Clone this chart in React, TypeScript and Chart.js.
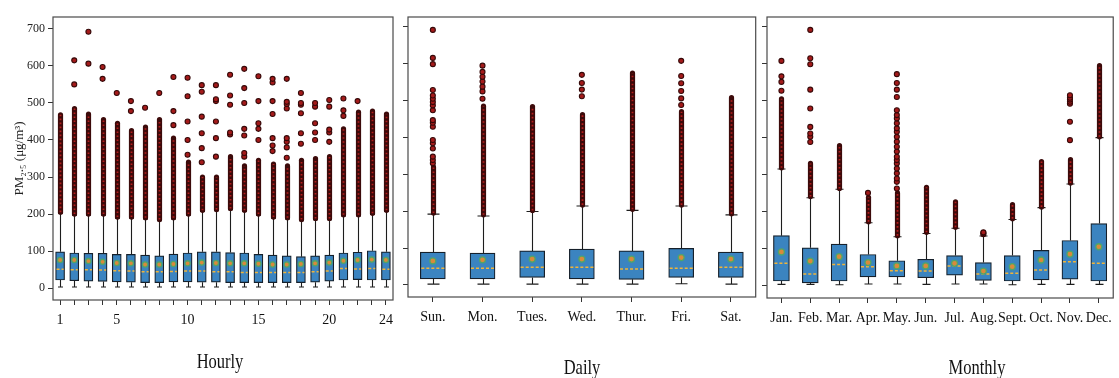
import React, { useEffect, useRef } from 'react';
import { Chart, registerables } from 'chart.js';

Chart.register(...registerables);

const FONT = "'Liberation Serif', 'Times New Roman', serif";

// ---------- shared ----------
const yTickValues = [0, 100, 200, 300, 400, 500, 600, 700];

// ---------- Hourly ----------
const hourLabels = ['1','2','3','4','5','6','7','8','9','10','11','12','13','14','15','16','17','18','19','20','21','22','23','24'];
const hourShownLabels = ['1', '5', '10', '15', '20', '24'];
const hourQ1 = [22,20,19,18,17,16,15,15,17,17,16,16,15,15,15,15,15,15,16,19,22,23,22,22];
const hourQ3 = [98,95,94,94,91,91,89,87,92,95,98,98,96,95,91,89,87,85,87,89,95,97,101,98];
const hourMedian = [51,50,50,49,47,46,44,44,45,46,46,44,44,42,42,42,42,42,44,46,53,52,53,51];
const hourMean = [76,76,73,71,68,67,64,64,65,67,69,68,67,67,66,64,64,65,67,69,74,76,77,76];
const hourWhiskerLow = [3,3,3,3,3,3,3,3,3,3,3,3,3,3,3,3,3,3,3,3,3,3,3,3];
const hourWhiskerHigh = [202,197,197,197,189,189,187,182,187,197,207,209,212,207,197,189,187,182,185,185,195,195,199,207];
const hourDenseLow = [205,200,200,200,192,192,190,185,190,200,210,212,215,210,200,192,190,185,188,188,198,198,202,210];
const hourDenseHigh = [468,485,470,455,445,425,435,455,405,340,300,300,355,330,345,335,330,345,350,355,430,475,478,470];
const hourOutliers: number[][] = [
  [],
  [550, 615],
  [606, 692],
  [565, 597],
  [527],
  [478, 505],
  [487],
  [527],
  [440, 478, 570],
  [360, 400, 450, 518, 568],
  [340, 378, 418, 463, 530, 548],
  [355, 405, 450, 505, 510, 548],
  [415, 420, 495, 520, 576],
  [355, 365, 412, 430, 500, 540, 592],
  [400, 430, 445, 505, 572],
  [370, 385, 405, 470, 505, 555, 565],
  [352, 380, 395, 405, 485, 497, 503, 565],
  [390, 418, 472, 495, 500, 527],
  [400, 420, 445, 490, 500],
  [395, 420, 428, 490, 508],
  [465, 480, 512],
  [505],
  [],
  [],
];

// ---------- Daily ----------
const dayLabels = ['Sun.', 'Mon.', 'Tues.', 'Wed.', 'Thur.', 'Fri.', 'Sat.'];
const dayQ1 = [16, 16, 20, 16, 15, 20, 20];
const dayQ3 = [89, 86, 92, 97, 92, 99, 89];
const dayMedian = [45, 45, 48, 48, 43, 45, 48];
const dayMean = [65, 68, 70, 70, 70, 74, 70];
const dayWhiskerLow = [2, 2, 2, 2, 2, 3, 2];
const dayWhiskerHigh = [192, 187, 199, 214, 202, 214, 190];
const dayDenseLow = [195, 190, 202, 217, 205, 217, 193];
const dayDenseHigh = [320, 485, 484, 462, 575, 470, 508];
const dayOutliers: number[][] = [
  [330, 339, 348, 370, 384, 393, 429, 440, 447, 474, 487, 496, 505, 514, 529, 599, 616, 692],
  [505, 525, 538, 552, 565, 578, 595],
  [],
  [512, 530, 548, 570],
  [],
  [488, 506, 526, 547, 567, 608],
  [],
];

// ---------- Monthly ----------
const monthLabels = ['Jan.', 'Feb.', 'Mar.', 'Apr.', 'May.', 'Jun.', 'Jul.', 'Aug.', 'Sept.', 'Oct.', 'Nov.', 'Dec.'];
const monthQ1 = [11, 6, 11, 22, 22, 20, 27, 13, 11, 14, 16, 11];
const monthQ3 = [134, 101, 111, 83, 66, 70, 80, 61, 80, 94, 121, 167];
const monthMedian = [59, 30, 56, 50, 39, 38, 52, 30, 32, 41, 63, 59];
const monthMean = [90, 65, 77, 61, 52, 52, 59, 38, 50, 68, 84, 104];
const monthWhiskerLow = [2, 2, 1, 3, 3, 2, 3, 3, 1, 2, 2, 2];
const monthWhiskerHigh = [315, 237, 260, 169, 131, 140, 154, 133, 178, 210, 274, 400];
const monthDenseLow: (number | null)[] = [318, 240, 262, 172, 134, 143, 157, null, 180, 212, 277, 402];
const monthDenseHigh: (number | null)[] = [505, 330, 378, 238, 250, 265, 226, null, 218, 335, 340, 595];
const monthOutliers: number[][] = [
  [527, 551, 566, 608],
  [388, 402, 411, 429, 479, 530, 599, 615, 692],
  [],
  [250],
  [262, 280, 289, 303, 316, 330, 339, 348, 362, 375, 389, 402, 416, 425, 439, 452, 461, 474, 510, 530, 548, 572],
  [],
  [],
  [138, 141, 143],
  [],
  [],
  [393, 443, 492, 497, 503, 508, 515],
  [],
];

type Panel = {
  labels: string[];
  q1: number[];
  q3: number[];
  median: number[];
  mean: number[];
  whiskerLow: number[];
  whiskerHigh: number[];
  denseLow: (number | null)[];
  denseHigh: (number | null)[];
  outliers: number[][];
  shown?: string[];
  left: number;
  width: number;
  yAxisWidth: number;
  xAxisHeight: number;
  padRight: number;
  yMin: number;
  yMax: number;
  showYLabels: boolean;
  boxWidth: number;
  capWidth: number;
  meanRadius: number;
  tickSize: number;
};

const HEIGHT = 378;

const panels: Panel[] = [
  {
    labels: hourLabels, q1: hourQ1, q3: hourQ3, median: hourMedian, mean: hourMean,
    whiskerLow: hourWhiskerLow, whiskerHigh: hourWhiskerHigh, denseLow: hourDenseLow, denseHigh: hourDenseHigh,
    outliers: hourOutliers, shown: hourShownLabels,
    left: 0, width: 400, yAxisWidth: 53, xAxisHeight: 78, padRight: 3,
    yMin: -32, yMax: 732, showYLabels: true, boxWidth: 9, capWidth: 5, meanRadius: 2.6, tickSize: 14,
  },
  {
    labels: dayLabels, q1: dayQ1, q3: dayQ3, median: dayMedian, mean: dayMean,
    whiskerLow: dayWhiskerLow, whiskerHigh: dayWhiskerHigh, denseLow: dayDenseLow, denseHigh: dayDenseHigh,
    outliers: dayOutliers,
    left: 400, width: 360, yAxisWidth: 8, xAxisHeight: 81, padRight: 2,
    yMin: -33, yMax: 727, showYLabels: false, boxWidth: 25, capWidth: 12, meanRadius: 3, tickSize: 14,
  },
  {
    labels: monthLabels, q1: monthQ1, q3: monthQ3, median: monthMedian, mean: monthMean,
    whiskerLow: monthWhiskerLow, whiskerHigh: monthWhiskerHigh, denseLow: monthDenseLow, denseHigh: monthDenseHigh,
    outliers: monthOutliers,
    left: 760, width: 359, yAxisWidth: 7, xAxisHeight: 80, padRight: 2,
    yMin: -35, yMax: 727, showYLabels: false, boxWidth: 16, capWidth: 8, meanRadius: 3, tickSize: 14,
  },
];

const titles = [
  { text: 'Hourly', x: 220, y: 362 },
  { text: 'Daily', x: 582, y: 368 },
  { text: 'Monthly', x: 977, y: 368 },
];

function makeExtras(p: Panel) {
  return {
    id: 'boxExtras',
    beforeDatasetsDraw(chart: any) {
      const { ctx } = chart;
      const x = chart.scales.x;
      const y = chart.scales.y;
      ctx.save();
      // whiskers
      ctx.strokeStyle = '#1d1d1d';
      ctx.lineWidth = 1.1;
      p.labels.forEach((_, i) => {
        const cx = Math.round(x.getPixelForValue(i)) + 0.5;
        const hw = p.capWidth / 2;
        const yq3 = y.getPixelForValue(p.q3[i]);
        const yq1 = y.getPixelForValue(p.q1[i]);
        const yh = y.getPixelForValue(p.whiskerHigh[i]);
        const yl = y.getPixelForValue(p.whiskerLow[i]);
        ctx.beginPath();
        ctx.moveTo(cx, yq3); ctx.lineTo(cx, yh);
        ctx.moveTo(cx - hw, yh); ctx.lineTo(cx + hw, yh);
        ctx.moveTo(cx, yq1); ctx.lineTo(cx, yl);
        ctx.moveTo(cx - hw, yl); ctx.lineTo(cx + hw, yl);
        ctx.stroke();
      });
      // dense outlier runs
      p.labels.forEach((_, i) => {
        const lo = p.denseLow[i];
        const hi = p.denseHigh[i];
        if (lo == null || hi == null) return;
        const cx = Math.round(x.getPixelForValue(i)) + 0.5;
        const yl = y.getPixelForValue(lo);
        const yh = y.getPixelForValue(hi);
        ctx.lineCap = 'round';
        ctx.strokeStyle = '#3c0a0a';
        ctx.lineWidth = 5.2;
        ctx.beginPath(); ctx.moveTo(cx, yl); ctx.lineTo(cx, yh); ctx.stroke();
        ctx.lineCap = 'butt';
        ctx.strokeStyle = '#b51d1d';
        ctx.lineWidth = 1.8;
        ctx.setLineDash([1.6, 2.4]);
        ctx.beginPath(); ctx.moveTo(cx, yl); ctx.lineTo(cx, yh); ctx.stroke();
        ctx.setLineDash([]);
      });
      ctx.restore();
    },
    afterDatasetDraw(chart: any, args: any) {
      if (args.index !== 0) return;
      const { ctx } = chart;
      const x = chart.scales.x;
      const y = chart.scales.y;
      ctx.save();
      ctx.strokeStyle = '#f0b43a';
      ctx.lineWidth = 1.5;
      ctx.setLineDash([3, 2]);
      p.labels.forEach((_, i) => {
        const cx = x.getPixelForValue(i);
        const hw = p.boxWidth / 2 - 1;
        const ym = y.getPixelForValue(p.median[i]);
        ctx.beginPath(); ctx.moveTo(cx - hw, ym); ctx.lineTo(cx + hw, ym); ctx.stroke();
      });
      ctx.restore();
    },
    afterDraw(chart: any) {
      const { ctx, chartArea } = chart;
      ctx.save();
      ctx.strokeStyle = '#4a4a4a';
      ctx.lineWidth = 1.2;
      ctx.strokeRect(chartArea.left, chartArea.top, chartArea.right - chartArea.left, chartArea.bottom - chartArea.top);
      ctx.restore();
    },
  };
}

function BoxPanel({ p }: { p: Panel }) {
  const ref = useRef<HTMLCanvasElement | null>(null);
  useEffect(() => {
    if (!ref.current) return;
    const outlierPoints = p.outliers.flatMap((arr, i) => arr.map((v) => ({ x: p.labels[i], y: v })));
    const chart = new Chart(ref.current, {
      type: 'bar',
      data: {
        labels: p.labels,
        datasets: [
          {
            type: 'bar',
            label: 'IQR',
            data: p.q1.map((v, i) => [v, p.q3[i]]) as any,
            backgroundColor: '#3b84c0',
            borderColor: '#16202b',
            borderWidth: 1.2,
            borderSkipped: false,
            barThickness: p.boxWidth,
            order: 3,
          },
          {
            type: 'line',
            label: 'outliers',
            data: outlierPoints as any,
            showLine: false,
            pointRadius: 2.5,
            pointHoverRadius: 2.5,
            pointBackgroundColor: '#a41a1a',
            pointBorderColor: '#360909',
            pointBorderWidth: 1.1,
            order: 2,
          },
          {
            type: 'line',
            label: 'mean',
            data: p.mean as any,
            showLine: false,
            pointRadius: p.meanRadius,
            pointHoverRadius: p.meanRadius,
            pointBackgroundColor: '#d98a3a',
            pointBorderColor: '#4ea56b',
            pointBorderWidth: 1.3,
            order: 1,
          },
        ],
      },
      options: {
        responsive: false,
        animation: false,
        events: [],
        layout: { padding: { top: 17, right: p.padRight, left: 0, bottom: 0 } },
        plugins: { legend: { display: false }, tooltip: { enabled: false }, title: { display: false } },
        scales: {
          x: {
            type: 'category',
            offset: true,
            afterFit: (s: any) => { s.height = p.xAxisHeight; },
            grid: { offset: false, drawOnChartArea: false, drawTicks: true, tickLength: 5, color: '#333', lineWidth: 1 },
            border: { display: false },
            ticks: {
              autoSkip: false,
              maxRotation: 0,
              minRotation: 0,
              padding: 7,
              color: '#111',
              font: { family: FONT, size: p.tickSize },
              callback: (_v: any, i: number) => {
                const lab = p.labels[i];
                if (p.shown && !p.shown.includes(lab)) return '';
                return lab;
              },
            },
          },
          y: {
            type: 'linear',
            min: p.yMin,
            max: p.yMax,
            bounds: 'data',
            afterBuildTicks: (s: any) => { s.ticks = yTickValues.map((v) => ({ value: v })); },
            afterFit: (s: any) => { s.width = p.yAxisWidth; },
            grid: { drawOnChartArea: false, drawTicks: true, tickLength: 5, color: '#333', lineWidth: 1 },
            border: { display: false },
            ticks: {
              display: p.showYLabels,
              autoSkip: false,
              padding: 3,
              color: '#222',
              font: { family: FONT, size: 12 },
              callback: (v: any) => String(v),
            },
            title: {
              display: p.showYLabels,
              text: 'PM₂.₅ (μg/m³)',
              color: '#222',
              font: { family: FONT, size: 13 },
              padding: { top: 12, bottom: 0 },
            },
          },
        },
      },
      plugins: [makeExtras(p)],
    } as any);
    return () => chart.destroy();
  }, [p]);
  return (
    <div style={{ position: 'absolute', left: p.left, top: 0, width: p.width, height: HEIGHT }}>
      <canvas ref={ref} width={p.width} height={HEIGHT} style={{ display: 'block', width: p.width, height: HEIGHT }} />
    </div>
  );
}

export default function App() {
  return (
    <div style={{ position: 'absolute', left: 0, top: 0, width: 1119, height: HEIGHT, background: '#fff', overflow: 'hidden' }}>
      {panels.map((p, i) => (
        <BoxPanel key={i} p={p} />
      ))}
      {titles.map((t) => (
        <div
          key={t.text}
          style={{
            position: 'absolute',
            left: t.x,
            top: t.y,
            transform: 'translate(-50%, -50%) scaleY(1.3)',
            fontFamily: FONT,
            fontSize: 16.5,
            lineHeight: 1,
            color: '#111',
            whiteSpace: 'nowrap',
          }}
        >
          {t.text}
        </div>
      ))}
    </div>
  );
}
